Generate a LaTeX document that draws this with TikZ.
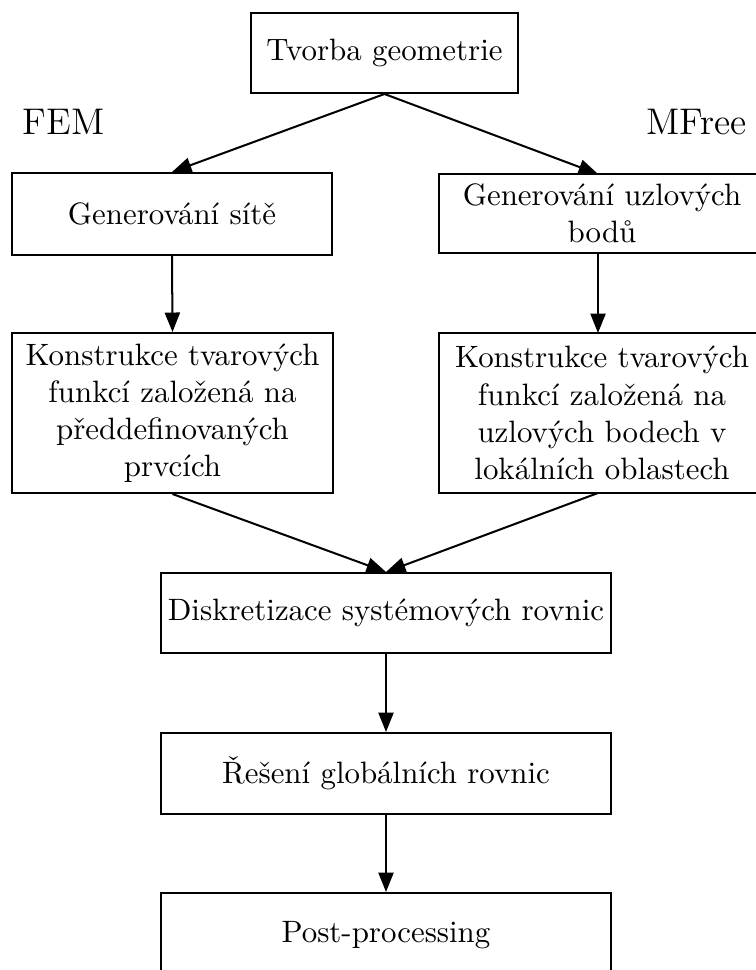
\documentclass[tikz,border=0pt]{standalone}
\usepackage{fontspec}
\usetikzlibrary{arrows.meta}
\begin{document}
\begin{tikzpicture}[x=0.3236pt,y=-0.3236pt,
  box/.style 2 args={draw, line width=0.65pt, align=center, inner sep=0pt,
    minimum width=#1*0.3236pt, minimum height=#2*0.3236pt},
  arr/.style={-{Triangle[length=6.3pt,width=4.9pt]}, line width=0.65pt},
  lbl/.style={font=\large, inner sep=0pt}]
\useasboundingbox (0,0) rectangle (755,970);
\node[box={267}{80}] (top) at (384.5,53) {Tvorba geometrie};
\node[box={320}{82}] (genL) at (172,214) {Generování sítě};
\node[box={326}{79}] (genR) at (602,213.5) {Generování uzlových\\bodů};
\node[box={321}{160}] (konL) at (172.5,413) {Konstrukce tvarových\\funkcí založená na\\předdefinovaných\\prvcích};
\node[box={326}{160}] (konR) at (602,413) {Konstrukce tvarových\\funkcí založená na\\uzlových bodech v\\lokálních oblastech};
\node[box={450}{80}] (disk) at (386,613) {Diskretizace systémových rovnic};
\node[box={450}{81}] (res) at (386,773.5) {Řešení globálních rovnic};
\node[box={450}{84}] (post) at (386,935) {Post-processing};
\node[lbl, anchor=base west] (fem) at (22,135) {FEM};
\node[lbl, anchor=base east] (mfree) at (747,135) {MFree};
\coordinate (gRn) at (598,174);
\coordinate (gRs) at (598,253);
\coordinate (kRn) at (598,333);
\coordinate (kRs) at (598,493);
\draw[arr] (top.south) -- (genL.north);
\draw[arr] (top.south) -- (gRn);
\draw[arr] (genL.south) -- (konL.north);
\draw[arr] (gRs) -- (kRn);
\draw[arr] (konL.south) -- (disk.north);
\draw[arr] (kRs) -- (disk.north);
\draw[arr] (disk.south) -- (res.north);
\draw[arr] (res.south) -- (post.north);
\end{tikzpicture}
\end{document}
